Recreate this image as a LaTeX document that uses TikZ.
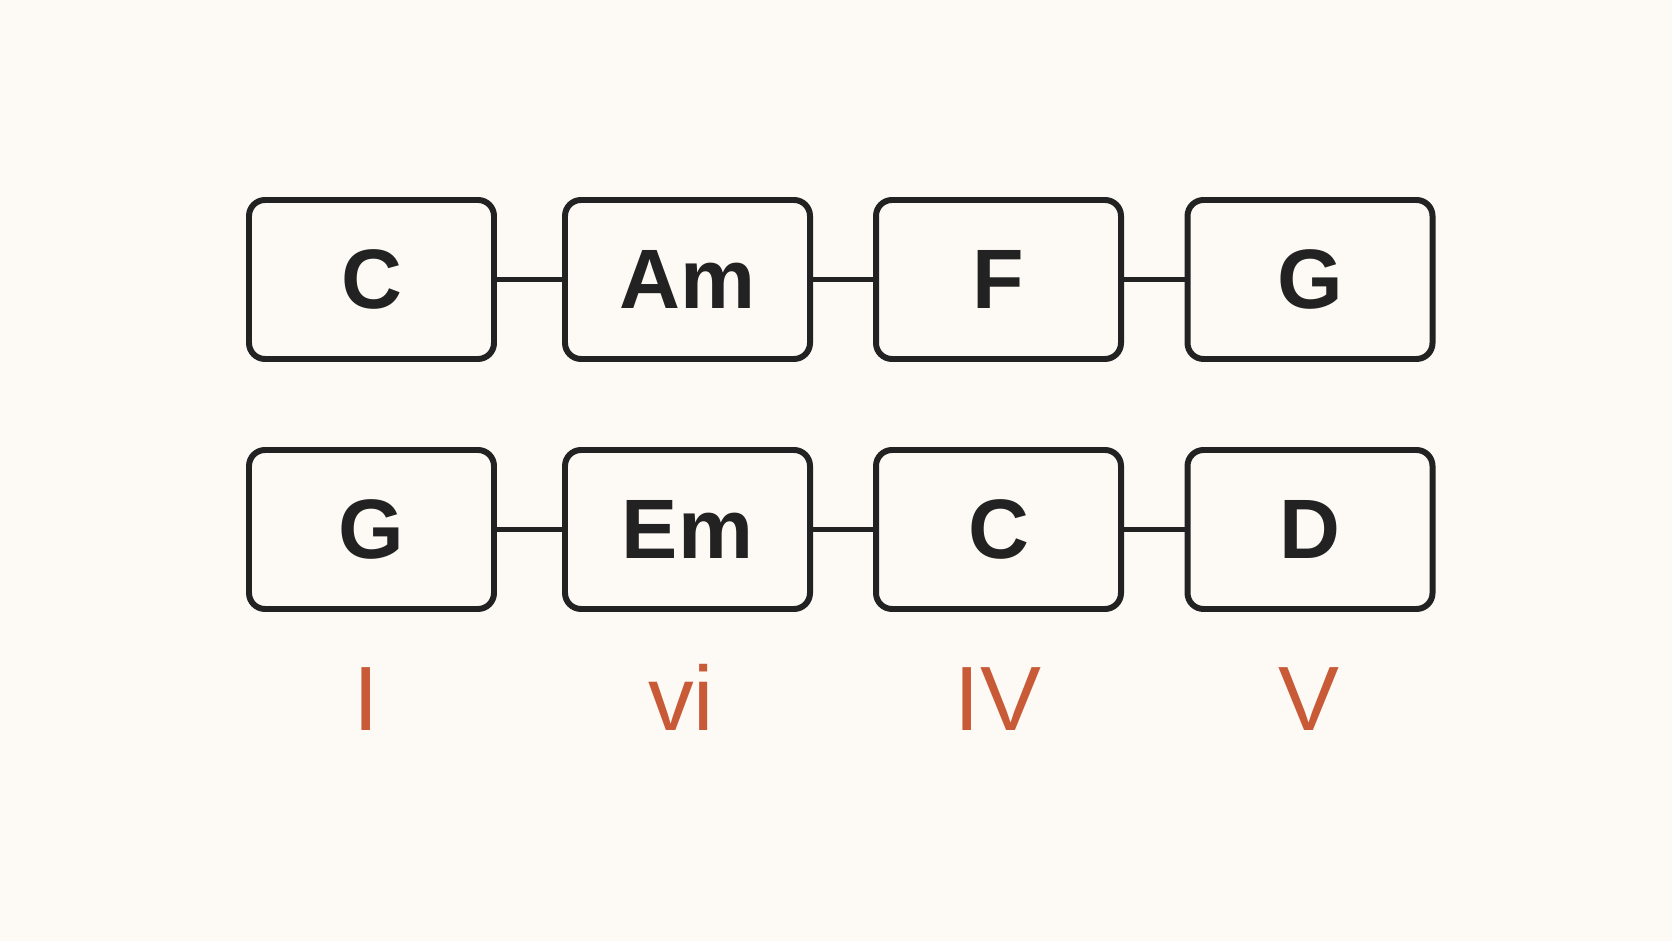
\documentclass[tikz,border=0pt]{standalone}
\usepackage{fontspec}
\setmainfont{Liberation Sans}
\definecolor{paper}{HTML}{FDFAF5}
\definecolor{ink}{HTML}{222222}
\definecolor{rust}{HTML}{C85A38}
\tikzset{
 chord/.style={draw=ink,line width=1.7pt,rounded corners=0.16cm,minimum width=2.45cm,minimum height=1.59cm,inner sep=0pt,text=ink,font=\fontsize{24}{28}\selectfont\bfseries},
 degree/.style={anchor=base,text=rust,inner sep=0pt,font=\fontsize{26}{30}\selectfont},
 link/.style={draw=ink,line width=1.7pt}
}
\begin{document}
\begin{tikzpicture}
 \fill[paper](0,0) rectangle (16.72,9.41);
 \useasboundingbox (0,0) rectangle (16.72,9.41);
 \node[chord] (c1) at (3.715,6.615) {C};
 \node[chord] (am) at (6.875,6.615) {Am};
 \node[chord] (f) at (9.985,6.615) {F};
 \node[chord] (g1) at (13.10,6.615) {G};
 \node[chord] (g2) at (3.715,4.115) {G};
 \node[chord] (em) at (6.875,4.115) {Em};
 \node[chord] (c2) at (9.985,4.115) {C};
 \node[chord] (d) at (13.10,4.115) {D};
 \draw[link](c1)--(am);
 \draw[link](am)--(f);
 \draw[link](f)--(g1);
 \draw[link](g2)--(em);
 \draw[link](em)--(c2);
 \draw[link](c2)--(d);
 \node[degree] (one) at (3.66,2.11) {I};
 \node[degree] (six) at (6.81,2.11) {vi};
 \node[degree] (four) at (9.98,2.11) {IV};
 \node[degree] (five) at (13.09,2.11) {V};
\end{tikzpicture}
\end{document}
